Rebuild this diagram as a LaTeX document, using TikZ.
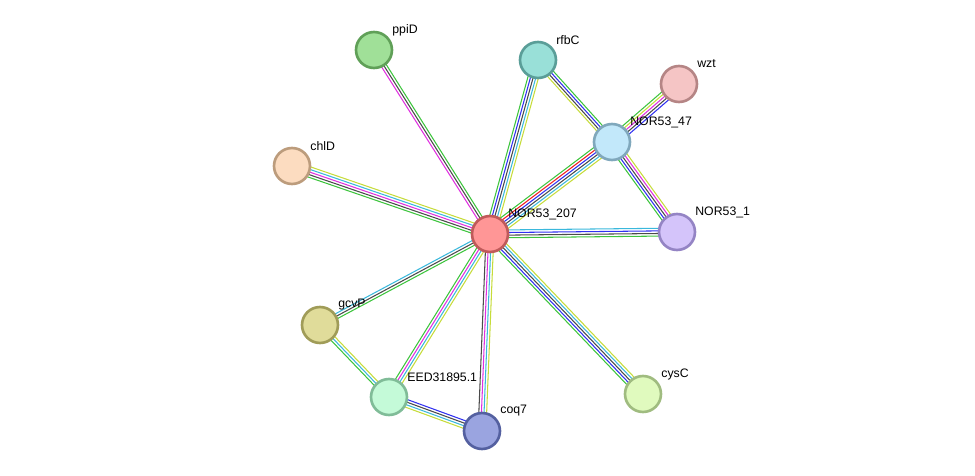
\documentclass[tikz,border=0pt]{standalone}
\usepackage{fontspec}
\setsansfont{Liberation Sans}
\usepackage{xcolor}
\definecolor{sgreen}{HTML}{3DC43D}
\definecolor{sred}{HTML}{F02020}
\definecolor{sblue}{HTML}{3030F0}
\definecolor{sdark}{HTML}{4A4A4A}
\definecolor{smag}{HTML}{E030E0}
\definecolor{scyan}{HTML}{3AB8DC}
\definecolor{syel}{HTML}{C6DC3A}
\usepackage{tikz}
\usetikzlibrary{calc,backgrounds}

% one line per evidence channel, side by side
\newcommand{\strand}[3]{%
  \foreach \c [count=\i] in {#3}{\xdef\nlines{\i}}%
  \foreach \c [count=\i] in {#3}{%
    \pgfmathsetmacro\off{(\i-(\nlines+1)/2)*0.052}%
    \draw[\c,line width=0.6pt] ($(#1.center)!\off cm!90:(#2.center)$) -- ($(#2.center)!\off cm!-90:(#1.center)$);
  }}

\begin{document}
\begin{tikzpicture}[x=0.02cm,y=-0.02cm,
    prot/.style={circle,minimum size=0.72cm,inner sep=0pt,line width=1.5pt},
    lbl/.style={anchor=west,font=\sffamily\fontsize{7}{8}\selectfont,inner sep=0pt}]
    \useasboundingbox (0,0) rectangle (975,476);
    \node[prot,fill={rgb,255:red,255;green,150;blue,150},draw={rgb,255:red,192;green,90;blue,90}] (n207) at (490,234) {};
    \node[prot,fill={rgb,255:red,160;green,224;blue,152},draw={rgb,255:red,96;green,160;blue,88}] (ppiD) at (374,50) {};
    \node[prot,fill={rgb,255:red,153;green,224;blue,216},draw={rgb,255:red,90;green,158;blue,152}] (rfbC) at (538,60) {};
    \node[prot,fill={rgb,255:red,245;green,197;blue,197},draw={rgb,255:red,181;green,133;blue,133}] (wzt) at (679,84) {};
    \node[prot,fill={rgb,255:red,194;green,232;blue,250},draw={rgb,255:red,128;green,168;blue,188}] (n47) at (612,142) {};
    \node[prot,fill={rgb,255:red,252;green,220;blue,192},draw={rgb,255:red,188;green,156;blue,124}] (chlD) at (292,166) {};
    \node[prot,fill={rgb,255:red,212;green,196;blue,250},draw={rgb,255:red,148;green,132;blue,196}] (n1) at (677,232) {};
    \node[prot,fill={rgb,255:red,224;green,220;blue,154},draw={rgb,255:red,160;green,156;blue,88}] (gcvP) at (320,325) {};
    \node[prot,fill={rgb,255:red,196;green,250;blue,216},draw={rgb,255:red,128;green,188;blue,152}] (eed) at (389,397) {};
    \node[prot,fill={rgb,255:red,154;green,164;blue,224},draw={rgb,255:red,84;green,96;blue,160}] (coq7) at (482,431) {};
    \node[prot,fill={rgb,255:red,224;green,250;blue,190},draw={rgb,255:red,160;green,188;blue,128}] (cysC) at (643,394) {};
    % labels
    \path (n207) ++(18,-20) node[lbl] (n207-l) {NOR53\_207};
    \path (ppiD) ++(18,-20) node[lbl] (ppiD-l) {ppiD};
    \path (rfbC) ++(18,-20) node[lbl] (rfbC-l) {rfbC};
    \path (wzt) ++(18,-20) node[lbl] (wzt-l) {wzt};
    \path (n47) ++(18,-20) node[lbl] (n47-l) {NOR53\_47};
    \path (chlD) ++(18,-20) node[lbl] (chlD-l) {chlD};
    \path (n1) ++(18,-20) node[lbl] (n1-l) {NOR53\_1};
    \path (gcvP) ++(18,-20) node[lbl] (gcvP-l) {gcvP};
    \path (eed) ++(18,-20) node[lbl] (eed-l) {EED31895.1};
    \path (coq7) ++(18,-20) node[lbl] (coq7-l) {coq7};
    \path (cysC) ++(18,-20) node[lbl] (cysC-l) {cysC};
    \begin{scope}[on background layer]
      \strand{n207}{ppiD}{sgreen,sdark,smag}
      \strand{n207}{chlD}{syel,scyan,smag,sdark,sgreen}
      \strand{n207}{rfbC}{syel,scyan,sdark,sblue,sgreen}
      \strand{n207}{n47}{syel,scyan,sdark,sblue,sred,sgreen}
      \strand{n207}{n1}{sgreen,sdark,sblue,scyan}
      \strand{n207}{cysC}{sgreen,sblue,sdark,scyan,syel}
      \strand{n207}{coq7}{sdark,smag,scyan,syel}
      \strand{n207}{eed}{sgreen,smag,scyan,syel}
      \strand{n207}{gcvP}{scyan,sdark,sgreen}
      \strand{gcvP}{eed}{sgreen,scyan,syel}
      \strand{eed}{coq7}{syel,scyan,sdark,sblue}
      \strand{rfbC}{n47}{syel,sdark,sblue,sgreen}
      \strand{n47}{wzt}{sblue,sdark,smag,syel,sgreen}
      \strand{n47}{n1}{sgreen,sblue,sdark,smag,syel}
    \end{scope}
  \end{tikzpicture}
\end{document}
